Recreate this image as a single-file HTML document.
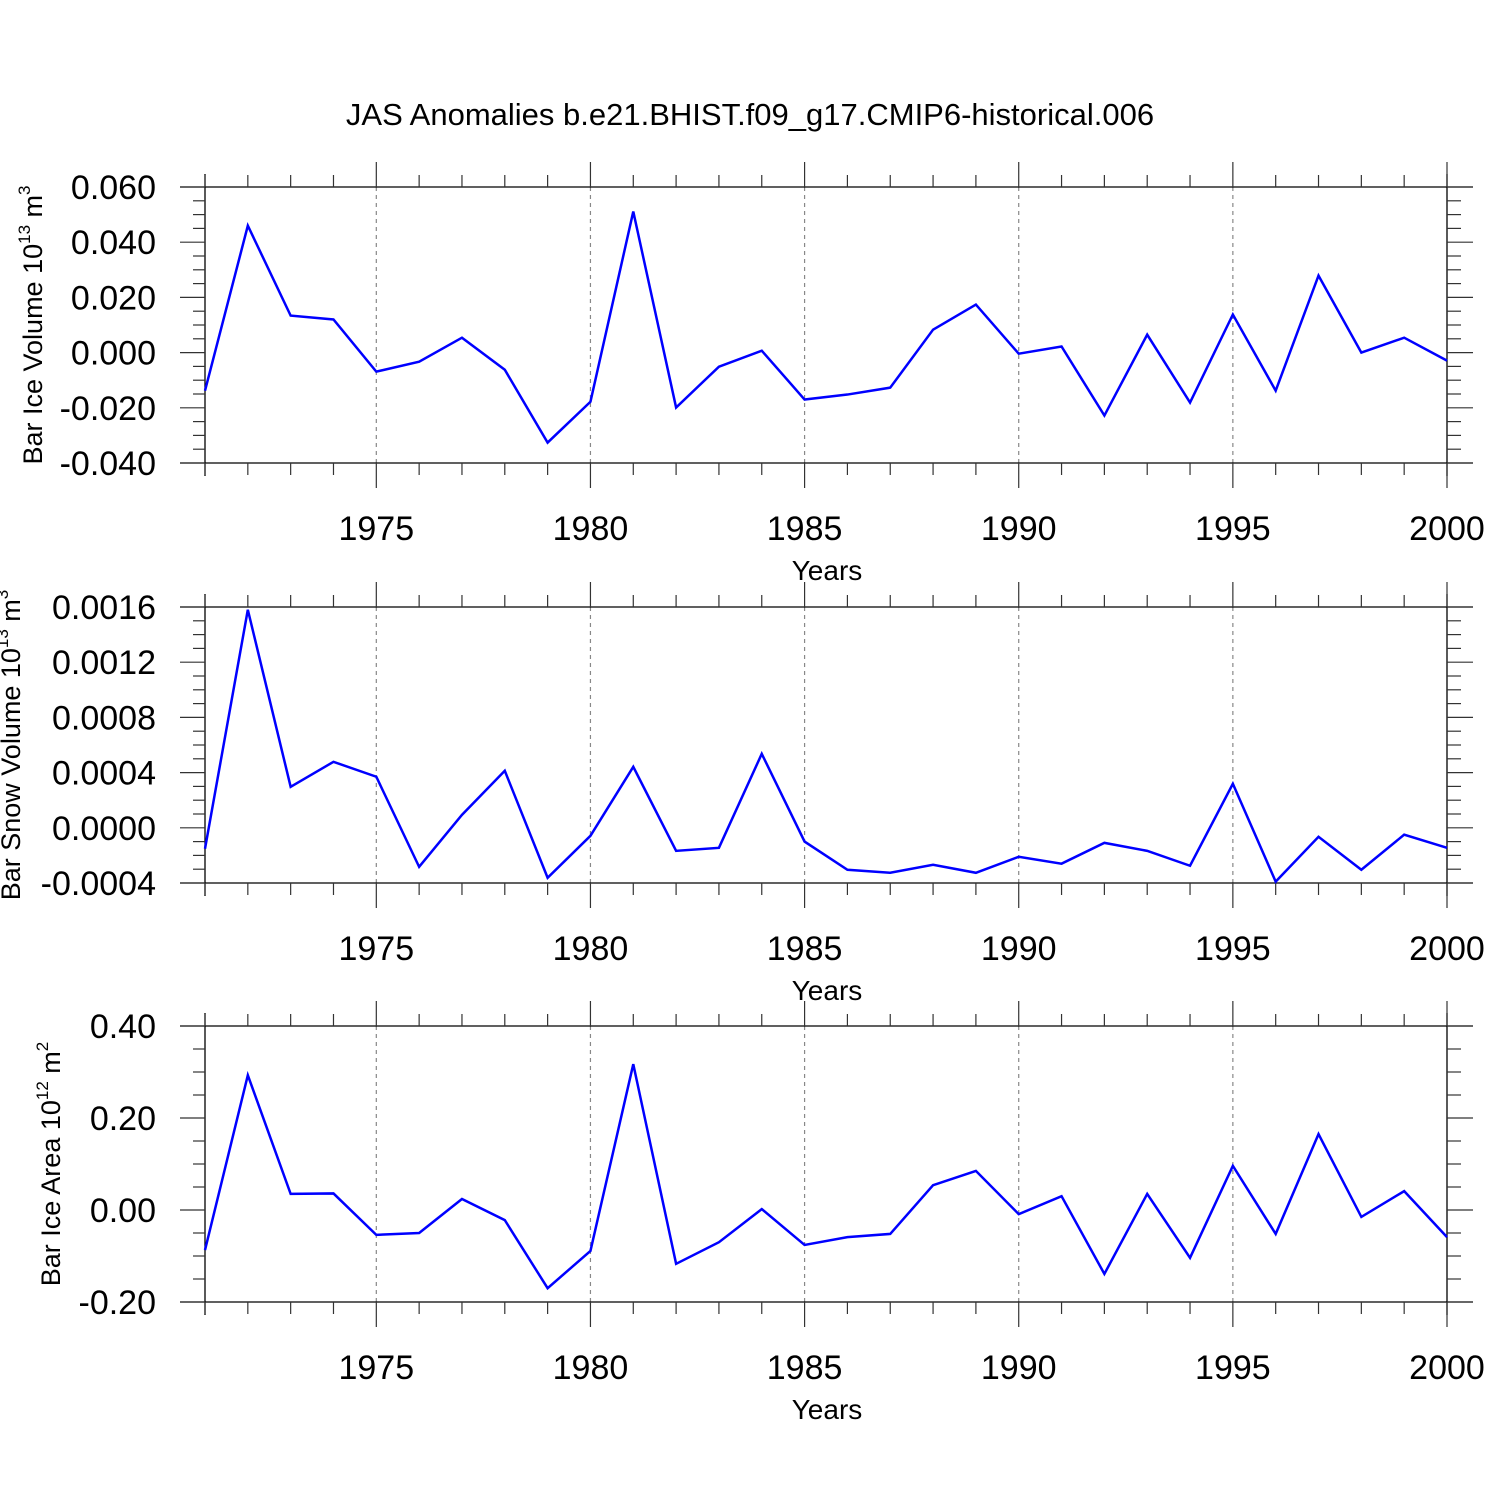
<!DOCTYPE html>
<html><head><meta charset="utf-8"><style>
html,body{margin:0;padding:0;background:#fff}
svg{display:block;font-family:"Liberation Sans",Arial,sans-serif}
</style></head><body>
<svg id="chart" width="1500" height="1500" viewBox="0 0 1500 1500" xmlns="http://www.w3.org/2000/svg">
<rect width="1500" height="1500" fill="#fff"/>
<text x="750" y="125" font-size="31" text-anchor="middle">JAS Anomalies b.e21.BHIST.f09_g17.CMIP6-historical.006</text>
</svg>
<script>
const years = [1971,1972,1973,1974,1975,1976,1977,1978,1979,1980,1981,1982,1983,1984,1985,1986,1987,1988,1989,1990,1991,1992,1993,1994,1995,1996,1997,1998,1999,2000];
const iceVolume = [-0.0138,0.046,0.0134,0.012,-0.0069,-0.0033,0.0054,-0.0062,-0.0326,-0.0178,0.0511,-0.0199,-0.0051,0.0007,-0.017,-0.0152,-0.0127,0.0083,0.0174,-0.0004,0.0022,-0.0228,0.0065,-0.0181,0.0138,-0.0138,0.0279,0.0,0.0054,-0.0029];
const snowVolume = [-0.000152,0.00158,0.000297,0.000478,0.00037,-0.000283,0.000094,0.000413,-0.000362,-0.000058,0.000442,-0.000167,-0.000145,0.000536,-0.0001,-0.000304,-0.000326,-0.000268,-0.000326,-0.00021,-0.00026,-0.000109,-0.000167,-0.000275,0.000319,-0.00039,-0.000065,-0.000304,-0.00005,-0.000145];
const iceArea = [-0.087,0.293,0.035,0.036,-0.054,-0.05,0.024,-0.022,-0.17,-0.089,0.317,-0.117,-0.07,0.002,-0.076,-0.059,-0.052,0.054,0.085,-0.009,0.03,-0.139,0.035,-0.104,0.096,-0.052,0.165,-0.015,0.041,-0.059];
const xTickLabels = [1975,1980,1985,1990,1995,2000];
const ticks1 = ["0.060","0.040","0.020","0.000","-0.020","-0.040"];
const ticks2 = ["0.0016","0.0012","0.0008","0.0004","0.0000","-0.0004"];
const ticks3 = ["0.40","0.20","0.00","-0.20"];

const NS="http://www.w3.org/2000/svg";
const svg=document.getElementById('chart');
function mk(tag,attrs,parent){const e=document.createElementNS(NS,tag);for(const k in attrs)e.setAttribute(k,attrs[k]);(parent||svg).appendChild(e);return e;}
const X0=205,X1=1447,L=180,R=1473;
function xs(y){return X0+(y-1971)*(X1-X0)/29;}

function panel(name,T,B,ticks,vals,titleParts,titleX){
  const g=mk('g',{});
  
  
  const ymax=parseFloat(ticks[0]),ymin=parseFloat(ticks[ticks.length-1]);
  const ys=v=>T+(ymax-v)*(B-T)/(ymax-ymin);
  xTickLabels.slice(0,5).forEach(y=>{
    const l=mk('line',{x1:xs(y),x2:xs(y),y1:T,y2:B,stroke:'#888','stroke-width':1.2,'stroke-dasharray':'4,4'},g);
    
    
  });
  mk('line',{x1:L,x2:R,y1:T,y2:T,stroke:'#000','stroke-width':1.3},g);
  mk('line',{x1:L,x2:R,y1:B,y2:B,stroke:'#000','stroke-width':1.3},g);
  mk('line',{x1:X0,x2:X0,y1:T-13,y2:B+13,stroke:'#000','stroke-width':1.3},g);
  mk('line',{x1:X1,x2:X1,y1:T-13,y2:B+13,stroke:'#000','stroke-width':1.3},g);
  years.forEach(y=>{
    const maj=y%5===0, len=maj?25:12, x=xs(y);
    mk('line',{x1:x,x2:x,y1:T-len,y2:T,stroke:'#333','stroke-width':1.2},g);
    mk('line',{x1:x,x2:x,y1:B,y2:B+len,stroke:'#333','stroke-width':1.2},g);
  });
  xTickLabels.forEach(y=>{
    const t=mk('text',{x:xs(y),y:B+77,'font-size':34,'text-anchor':'middle'},g);
    
    
    t.textContent=y;
  });
  const xt=mk('text',{x:827,y:B+117,'font-size':28,'text-anchor':'middle'},g);
  
  
  xt.textContent='Years';
  const n=ticks.length-1, step=(B-T)/n;
  for(let i=0;i<=n*4;i++){
    const y=T+i*step/4, maj=i%4===0;
    mk('line',{x1:maj?L:193,x2:X0,y1:y,y2:y,stroke:'#333','stroke-width':1.2},g);
    mk('line',{x1:X1,x2:maj?R:1461,y1:y,y2:y,stroke:'#333','stroke-width':1.2},g);
  }
  ticks.forEach(s=>{
    const t=mk('text',{x:156,y:ys(parseFloat(s))+12,'font-size':34,'text-anchor':'end'},g);
    
    
    t.textContent=s;
  });
  const yt=mk('text',{x:0,y:0,'font-size':27,'text-anchor':'middle',transform:`translate(${titleX},${(T+B)/2}) rotate(-90)`},g);
  
  
  const a=mk('tspan',{},yt);a.textContent=titleParts[0];
  const b=mk('tspan',{dy:-12,'font-size':17},yt);b.textContent=titleParts[1];
  const c=mk('tspan',{dy:12},yt);c.textContent=titleParts[2];
  const d=mk('tspan',{dy:-12,'font-size':17},yt);d.textContent=titleParts[3];
  const pts=years.map((y,i)=>xs(y)+','+ys(vals[i])).join(' ');
  const pl=mk('polyline',{points:pts,fill:'none',stroke:'#0000ff','stroke-width':2.5,'stroke-linejoin':'miter'},g);
  
  
}
panel('ice-volume',187,463,ticks1,iceVolume,['Bar Ice Volume 10','13',' m','3'],42);
panel('snow-volume',607,883,ticks2,snowVolume,['Bar Snow Volume 10','13',' m','3'],20);
panel('ice-area',1026,1302,ticks3,iceArea,['Bar Ice Area 10','12',' m','2'],60);
</script>
</body></html>
